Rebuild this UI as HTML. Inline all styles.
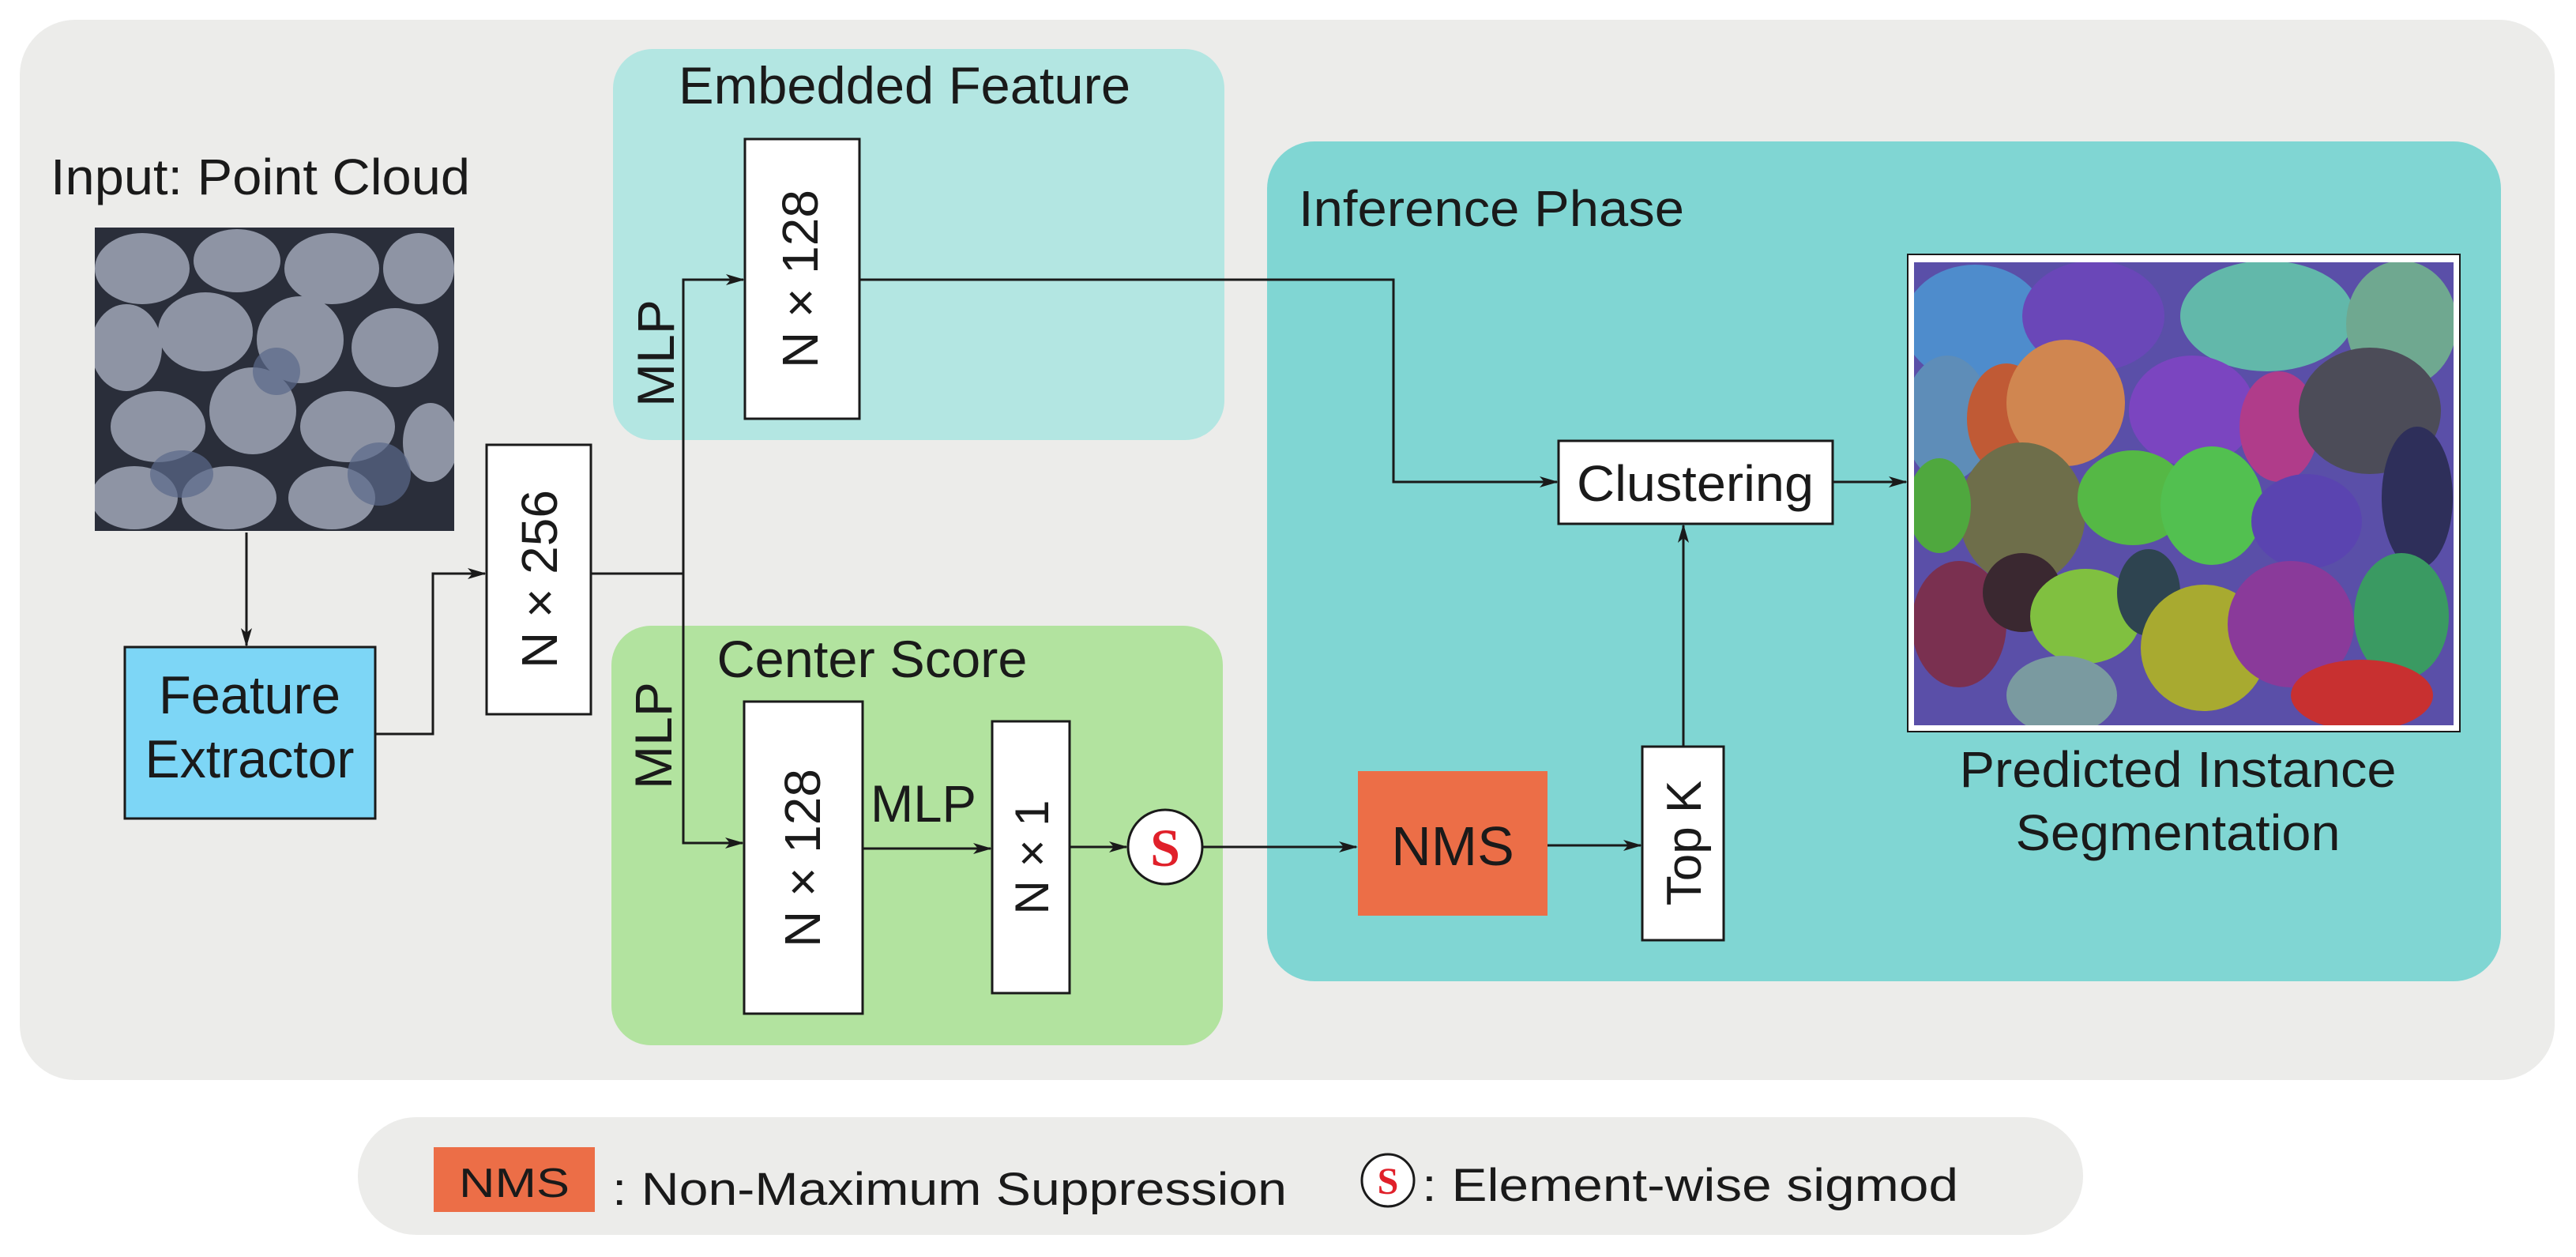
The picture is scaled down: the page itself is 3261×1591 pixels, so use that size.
<!DOCTYPE html>
<html><head><meta charset="utf-8"><style>
html,body{margin:0;padding:0;background:#fff;}
svg{display:block;}
text{font-family:"Liberation Sans",sans-serif;fill:#1a1a1a;}
</style></head><body>
<svg width="3261" height="1591" viewBox="0 0 3261 1591" xmlns="http://www.w3.org/2000/svg">
<defs>
<marker id="a" markerWidth="24" markerHeight="14" refX="22" refY="7" orient="auto" markerUnits="userSpaceOnUse">
<path d="M0,0 L24,7 L0,14 L6,7 Z" fill="#1a1a1a"/></marker>
<clipPath id="pc"><rect x="120" y="288" width="455" height="384"/></clipPath>
<clipPath id="sc"><rect x="2423" y="332" width="683" height="586"/></clipPath>
</defs>
<rect x="25" y="25" width="3209" height="1342" rx="70" fill="#ececea"/>
<rect x="776" y="62" width="774" height="495" rx="50" fill="#b3e6e2"/>
<text x="1145" y="131" font-size="66" text-anchor="middle" textLength="572" lengthAdjust="spacingAndGlyphs">Embedded Feature</text>
<rect x="943" y="176" width="145" height="354" fill="#fff" stroke="#1a1a1a" stroke-width="3"/>
<text transform="translate(1035,353) rotate(-90)" font-size="64" text-anchor="middle">N × 128</text>
<text transform="translate(853,447) rotate(-90)" font-size="66" text-anchor="middle">MLP</text>
<rect x="774" y="792" width="774" height="531" rx="50" fill="#b2e39f"/>
<text x="1104" y="857" font-size="66" text-anchor="middle" textLength="393" lengthAdjust="spacingAndGlyphs">Center Score</text>
<text transform="translate(850,931) rotate(-90)" font-size="66" text-anchor="middle">MLP</text>
<rect x="942" y="888" width="150" height="395" fill="#fff" stroke="#1a1a1a" stroke-width="3"/>
<text transform="translate(1038,1086) rotate(-90)" font-size="64" text-anchor="middle">N × 128</text>
<rect x="1256" y="913" width="98" height="344" fill="#fff" stroke="#1a1a1a" stroke-width="3"/>
<text transform="translate(1327,1085) rotate(-90)" font-size="60" text-anchor="middle">N × 1</text>
<text x="1169" y="1040" font-size="66" text-anchor="middle" textLength="134" lengthAdjust="spacingAndGlyphs">MLP</text>
<circle cx="1475" cy="1072" r="47" fill="#fff" stroke="#1a1a1a" stroke-width="3"/>
<text x="1475" y="1096" font-size="68" font-weight="bold" text-anchor="middle" style="font-family:'Liberation Serif',serif;fill:#e0202a">S</text>
<rect x="1604" y="179" width="1562" height="1063" rx="60" fill="#80d6d3"/>
<text x="1644" y="286" font-size="64" textLength="488" lengthAdjust="spacingAndGlyphs">Inference Phase</text>
<rect x="1973" y="558" width="347" height="105" fill="#fff" stroke="#1a1a1a" stroke-width="3"/>
<text x="2146" y="634" font-size="64" text-anchor="middle" textLength="300" lengthAdjust="spacingAndGlyphs">Clustering</text>
<rect x="1719" y="976" width="240" height="183" fill="#ec6e47"/>
<text x="1839" y="1095" font-size="70" text-anchor="middle">NMS</text>
<rect x="2079" y="945" width="103" height="245" fill="#fff" stroke="#1a1a1a" stroke-width="3"/>
<text transform="translate(2153,1067) rotate(-90)" font-size="62" text-anchor="middle">Top K</text>
<text x="2757" y="996" font-size="64" text-anchor="middle" textLength="553" lengthAdjust="spacingAndGlyphs">Predicted Instance</text>
<text x="2757" y="1076" font-size="64" text-anchor="middle" textLength="411" lengthAdjust="spacingAndGlyphs">Segmentation</text>
<rect x="2415" y="322" width="699" height="604" fill="#fff" stroke="#1a1a1a" stroke-width="2"/>
<g clip-path="url(#sc)">
<rect x="2423" y="332" width="683" height="586" fill="#5a4fa8"/>
<ellipse cx="2500" cy="410" rx="90" ry="75" fill="#4e8ccc"/>
<ellipse cx="2650" cy="400" rx="90" ry="70" fill="#6a47b8"/>
<ellipse cx="2870" cy="400" rx="110" ry="70" fill="#62b8aa"/>
<ellipse cx="3040" cy="410" rx="70" ry="80" fill="#6fa890"/>
<ellipse cx="2465" cy="530" rx="55" ry="80" fill="#5e8db8"/>
<ellipse cx="2540" cy="530" rx="50" ry="70" fill="#c05a35"/>
<ellipse cx="2615" cy="510" rx="75" ry="80" fill="#d08650"/>
<ellipse cx="2775" cy="520" rx="80" ry="70" fill="#7b45c0"/>
<ellipse cx="2885" cy="540" rx="50" ry="70" fill="#b03c8a"/>
<ellipse cx="3000" cy="520" rx="90" ry="80" fill="#4c4c58"/>
<ellipse cx="2560" cy="650" rx="80" ry="90" fill="#6e6e4a"/>
<ellipse cx="2700" cy="630" rx="70" ry="60" fill="#55b845"/>
<ellipse cx="2800" cy="640" rx="65" ry="75" fill="#52c050"/>
<ellipse cx="2920" cy="660" rx="70" ry="60" fill="#5a44b0"/>
<ellipse cx="3060" cy="630" rx="45" ry="90" fill="#2e2f5a"/>
<ellipse cx="2455" cy="640" rx="40" ry="60" fill="#4fa83e"/>
<ellipse cx="2480" cy="790" rx="60" ry="80" fill="#7a3050"/>
<ellipse cx="2560" cy="750" rx="50" ry="50" fill="#3a2830"/>
<ellipse cx="2640" cy="780" rx="70" ry="60" fill="#80c040"/>
<ellipse cx="2720" cy="750" rx="40" ry="55" fill="#2e4450"/>
<ellipse cx="2790" cy="820" rx="80" ry="80" fill="#a8aa30"/>
<ellipse cx="2900" cy="790" rx="80" ry="80" fill="#8a3a9a"/>
<ellipse cx="3040" cy="780" rx="60" ry="80" fill="#3a9a62"/>
<ellipse cx="2610" cy="880" rx="70" ry="50" fill="#7a9aa0"/>
<ellipse cx="2990" cy="880" rx="90" ry="45" fill="#c83030"/>
</g>
<text x="64" y="246" font-size="64" textLength="531" lengthAdjust="spacingAndGlyphs">Input: Point Cloud</text>
<g clip-path="url(#pc)">
<rect x="120" y="288" width="455" height="384" fill="#2a2e3a"/>
<g fill="#8e94a4">
<ellipse cx="180" cy="340" rx="60" ry="45"/><ellipse cx="300" cy="330" rx="55" ry="40"/><ellipse cx="420" cy="340" rx="60" ry="45"/><ellipse cx="530" cy="340" rx="45" ry="45"/>
<ellipse cx="160" cy="440" rx="45" ry="55"/><ellipse cx="260" cy="420" rx="60" ry="50"/><ellipse cx="380" cy="430" rx="55" ry="55"/><ellipse cx="500" cy="440" rx="55" ry="50"/>
<ellipse cx="200" cy="540" rx="60" ry="45"/><ellipse cx="320" cy="520" rx="55" ry="55"/><ellipse cx="440" cy="540" rx="60" ry="45"/><ellipse cx="545" cy="560" rx="35" ry="50"/>
<ellipse cx="170" cy="630" rx="55" ry="40"/><ellipse cx="290" cy="630" rx="60" ry="40"/><ellipse cx="420" cy="630" rx="55" ry="40"/>
</g>
<g fill="#5b6a8a" opacity="0.7">
<ellipse cx="230" cy="600" rx="40" ry="30"/><ellipse cx="480" cy="600" rx="40" ry="40"/><ellipse cx="350" cy="470" rx="30" ry="30"/>
</g>
</g>
<rect x="158" y="819" width="317" height="217" fill="#7dd6f6" stroke="#1a1a1a" stroke-width="3"/>
<text x="316" y="903" font-size="68" text-anchor="middle" textLength="230" lengthAdjust="spacingAndGlyphs">Feature</text>
<text x="316" y="984" font-size="68" text-anchor="middle" textLength="265" lengthAdjust="spacingAndGlyphs">Extractor</text>
<rect x="616" y="563" width="132" height="341" fill="#fff" stroke="#1a1a1a" stroke-width="3"/>
<text transform="translate(705,733) rotate(-90)" font-size="64" text-anchor="middle">N × 256</text>
<g stroke="#1a1a1a" stroke-width="3" fill="none">
<line x1="312" y1="674" x2="312" y2="817" marker-end="url(#a)"/>
<polyline points="475,929 548,929 548,726 614,726" marker-end="url(#a)"/>
<line x1="748" y1="726" x2="865" y2="726"/>
<polyline points="941,354 865,354 865,1067 940,1067"/>
<line x1="866" y1="354" x2="941" y2="354" marker-end="url(#a)"/>
<line x1="866" y1="1067" x2="940" y2="1067" marker-end="url(#a)"/>
<line x1="1092" y1="1074" x2="1254" y2="1074" marker-end="url(#a)"/>
<line x1="1354" y1="1072" x2="1426" y2="1072" marker-end="url(#a)"/>
<line x1="1523" y1="1072" x2="1717" y2="1072" marker-end="url(#a)"/>
<line x1="1959" y1="1070" x2="2077" y2="1070" marker-end="url(#a)"/>
<line x1="2131" y1="945" x2="2131" y2="665" marker-end="url(#a)"/>
<polyline points="1088,354 1764,354 1764,610 1971,610" marker-end="url(#a)"/>
<line x1="2320" y1="610" x2="2413" y2="610" marker-end="url(#a)"/>
</g>
<rect x="453" y="1414" width="2184" height="149" rx="74" fill="#ececea"/>
<rect x="549" y="1452" width="204" height="82" fill="#ec6e47"/>
<text x="651" y="1515" font-size="52" text-anchor="middle" textLength="140" lengthAdjust="spacingAndGlyphs">NMS</text>
<text x="775" y="1525" font-size="58" textLength="854" lengthAdjust="spacingAndGlyphs">: Non-Maximum Suppression</text>
<circle cx="1757" cy="1494" r="33" fill="#fff" stroke="#1a1a1a" stroke-width="3"/>
<text x="1757" y="1511" font-size="48" font-weight="bold" text-anchor="middle" style="font-family:'Liberation Serif',serif;fill:#e0202a">S</text>
<text x="1800" y="1520" font-size="58" textLength="679" lengthAdjust="spacingAndGlyphs">: Element-wise sigmod</text>
</svg>
</body></html>
